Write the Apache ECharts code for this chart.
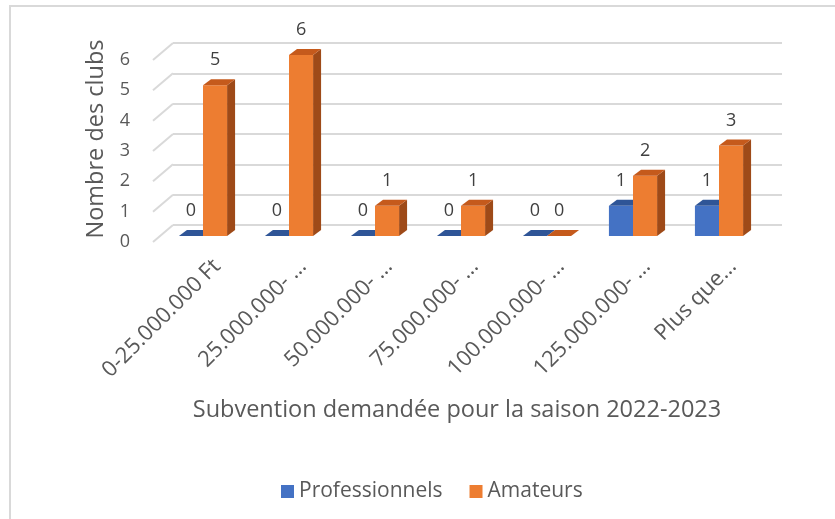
<!DOCTYPE html>
<html>
<head>
    <meta charset="UTF-8">
    <title>Subvention demandée</title>
    <script src="https://cdn.jsdelivr.net/npm/echarts@6/dist/echarts.min.js"></script>
    <style>
        body { margin: 0; background: #fff; }
    </style>
</head>
<body>

<div id="container" style="width:835px; height:519px;"></div>

<script>
    // donnees
    var categories = ['0-25.000.000 Ft', '25.000.000- …', '50.000.000- …', '75.000.000- …',
        '100.000.000- …', '125.000.000- …', 'Plus que…'];
    var professionnels = [0, 0, 0, 0, 0, 1, 1];
    var amateurs = [5, 6, 1, 1, 0, 2, 3];
    var yTicks = [0, 1, 2, 3, 4, 5, 6];

    var FONT = '"Open Sans", "Noto Sans", sans-serif';
    var GRAY = '#595959';

    // barre en "3D" : face avant, dessus, cote
    function bar3d(side, front, topC, sideC) {
        return function (params, api) {
            var i = api.value(0), v = api.value(1);
            var top = api.coord([i, v]);
            var base = api.coord([i, 0]);
            var w = api.size([1, 0])[0] * 0.28;
            var dx = 8, dy = -6;
            var x0 = side === 0 ? top[0] - w : top[0];
            var x1 = x0 + w;
            var yT = top[1], yB = base[1];
            return {
                type: 'group',
                children: [
                    {type: 'polygon', shape: {points: [[x1, yT], [x1 + dx, yT + dy], [x1 + dx, yB + dy], [x1, yB]]},
                        style: {fill: sideC}},
                    {type: 'rect', shape: {x: x0, y: yT, width: w, height: yB - yT}, style: {fill: front}},
                    {type: 'polygon', shape: {points: [[x0, yT], [x1, yT], [x1 + dx, yT + dy], [x0 + dx, yT + dy]]},
                        style: {fill: topC}},
                    {type: 'text', x: x0 + w / 2, y: yT - 25,
                        style: {text: String(v), fill: '#404040', font: '18px ' + FONT,
                            align: 'center', verticalAlign: 'middle'}}
                ]
            };
        };
    }

    var chart = echarts.init(document.getElementById('container'), null, {renderer: 'canvas'});
    var option = {
        animation: false,
        graphic: [{
            type: 'rect', shape: {x: 10, y: 6, width: 900, height: 600},
            style: {fill: 'none', stroke: '#d9d9d9', lineWidth: 2}
        }],
        grid: [
            {left: 160, top: 55, width: 602, height: 181},   // barres
            {left: 173, top: 43, width: 609, height: 182},   // mur du fond
            {left: 174, top: 60, width: 602, height: 182}    // plan avant (etiquettes)
        ],
        xAxis: [
            {type: 'category', gridIndex: 0, data: categories,
                axisLine: {show: false}, axisTick: {show: false}, axisLabel: {show: false},
                name: 'Subvention demandée pour la saison 2022-2023', nameLocation: 'middle', nameGap: 162,
                nameTextStyle: {fontFamily: FONT, fontSize: 23.5, color: GRAY, padding: [0, 8, 0, 0]}},
            {type: 'value', gridIndex: 1, min: 0, max: 1, show: false},
            {type: 'category', gridIndex: 2, data: categories,
                axisLine: {show: false}, axisTick: {show: false},
                axisLabel: {rotate: 45, margin: 21, interval: 0, fontFamily: FONT, fontSize: 22, color: GRAY}}
        ],
        yAxis: [
            {type: 'value', gridIndex: 0, min: 0, max: 6, interval: 1,
                axisLine: {show: false}, axisTick: {show: false}, axisLabel: {show: false}, splitLine: {show: false},
                name: 'Nombre des clubs', nameLocation: 'middle', nameGap: 52, nameRotate: 90,
                nameTextStyle: {fontFamily: FONT, fontSize: 23.5, color: GRAY, padding: [0, 0, 0, 13]}},
            {type: 'value', gridIndex: 1, min: 0, max: 6, interval: 1,
                axisLine: {show: false}, axisTick: {show: false}, axisLabel: {show: false},
                splitLine: {show: true, lineStyle: {color: '#d9d9d9', width: 2}}},
            {type: 'value', gridIndex: 2, min: 0, max: 6, interval: 1,
                axisLine: {show: false}, axisTick: {show: false}, splitLine: {show: false},
                axisLabel: {margin: 44, fontFamily: FONT, fontSize: 18, color: GRAY}}
        ],
        legend: {
            data: ['Professionnels', 'Amateurs'],
            left: 276, top: 476, icon: 'rect', itemWidth: 13, itemHeight: 13, itemGap: 27,
            textStyle: {fontFamily: FONT, fontSize: 21, color: GRAY}
        },
        series: [
            {   // lignes du mur lateral
                type: 'custom', xAxisIndex: 1, yAxisIndex: 1, silent: true,
                data: yTicks.map(function (t) { return [0, t]; }),
                renderItem: function (params, api) {
                    var p = api.coord([0, api.value(1)]);
                    return {type: 'line', shape: {x1: p[0], y1: p[1], x2: p[0] - 20, y2: p[1] + 17},
                        style: {stroke: '#d9d9d9', lineWidth: 2}};
                }
            },
            {
                name: 'Professionnels', type: 'custom', xAxisIndex: 0, yAxisIndex: 0,
                itemStyle: {color: '#4472C4'},
                data: professionnels.map(function (v, i) { return [i, v]; }),
                renderItem: bar3d(0, '#4472C4', '#2F5597', '#2A4C88')
            },
            {
                name: 'Amateurs', type: 'custom', xAxisIndex: 0, yAxisIndex: 0,
                itemStyle: {color: '#ED7D31'},
                data: amateurs.map(function (v, i) { return [i, v]; }),
                renderItem: bar3d(1, '#ED7D31', '#C55A1C', '#9E4A18')
            }
        ]
    };
    chart.setOption(option);
    window.onresize = chart.resize;
</script>
</body>
</html>
